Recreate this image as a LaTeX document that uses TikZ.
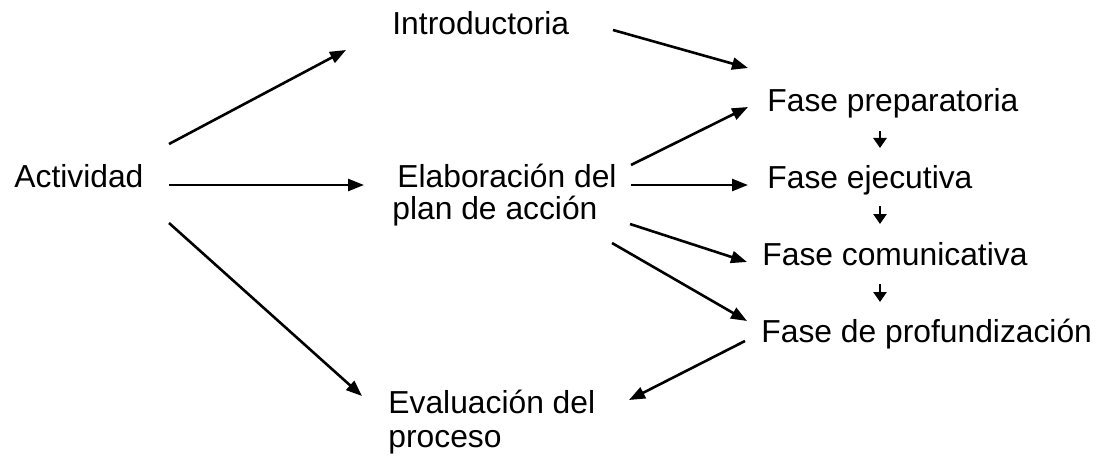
\documentclass[tikz,border=0pt]{standalone}
\usepackage{fontspec}
\setmainfont{Liberation Sans}
\usetikzlibrary{arrows.meta}
\begin{document}
\begin{tikzpicture}[x=0.5pt,y=-0.5pt,
  lbl/.style={anchor=base west,inner sep=0pt,font=\fontsize{15.9pt}{19pt}\selectfont},
  conn/.style={line width=1.3pt,-{Triangle[length=8pt,width=6pt]}},
  small/.style={line width=1.3pt,-{Triangle[length=5pt,width=6.5pt]}}]
\useasboundingbox (0,0) rectangle (1103,460);
% texts
\node[lbl] (act) at (14,187) {Actividad};
\node[lbl] (intro) at (392,35) {Introductoria};
\node[lbl] (elab) at (397,187) {Elaboración del};
\node[lbl] (elabB) at (392,219) {plan de acción};
\node[lbl] (eval) at (388,413) {Evaluación del};
\node[lbl] (evalB) at (388,447) {proceso};
\node[lbl] (prep) at (767,112) {Fase preparatoria};
\node[lbl] (ejec) at (767,188) {Fase ejecutiva};
\node[lbl] (com) at (762,265) {Fase comunicativa};
\node[lbl] (prof) at (761,342) {Fase de profundización};
% connector end points
\coordinate (actA) at (169,144);
\coordinate (actB) at (169,185);
\coordinate (actC) at (169,223);
\coordinate (introIn) at (346,50);
\coordinate (elabIn) at (364,185);
\coordinate (evalIn) at (362,396);
\coordinate (introOut) at (613,30);
\coordinate (elabA) at (631,165);
\coordinate (elabB1) at (631,185);
\coordinate (elabC) at (630,224);
\coordinate (elabD) at (612,243);
\coordinate (prepInA) at (748,68);
\coordinate (prepInB) at (748,107);
\coordinate (ejecIn) at (748,185);
\coordinate (comIn) at (747,262);
\coordinate (profIn) at (747,321);
\coordinate (profOut) at (745,341);
\coordinate (evalIn2) at (629,400);
\coordinate (prepS) at (880,131);
\coordinate (ejecN) at (880,148);
\coordinate (ejecS) at (880,206);
\coordinate (comN) at (880,224);
\coordinate (comS) at (880,284);
\coordinate (profN) at (880,302);
% connectors
\draw[conn] (actA) -- (introIn);
\draw[conn] (actB) -- (elabIn);
\draw[conn] (actC) -- (evalIn);
\draw[conn] (introOut) -- (prepInA);
\draw[conn] (elabA) -- (prepInB);
\draw[conn] (elabB1) -- (ejecIn);
\draw[conn] (elabC) -- (comIn);
\draw[conn] (elabD) -- (profIn);
\draw[conn] (profOut) -- (evalIn2);
\draw[small] (prepS) -- (ejecN);
\draw[small] (ejecS) -- (comN);
\draw[small] (comS) -- (profN);
\end{tikzpicture}
\end{document}
